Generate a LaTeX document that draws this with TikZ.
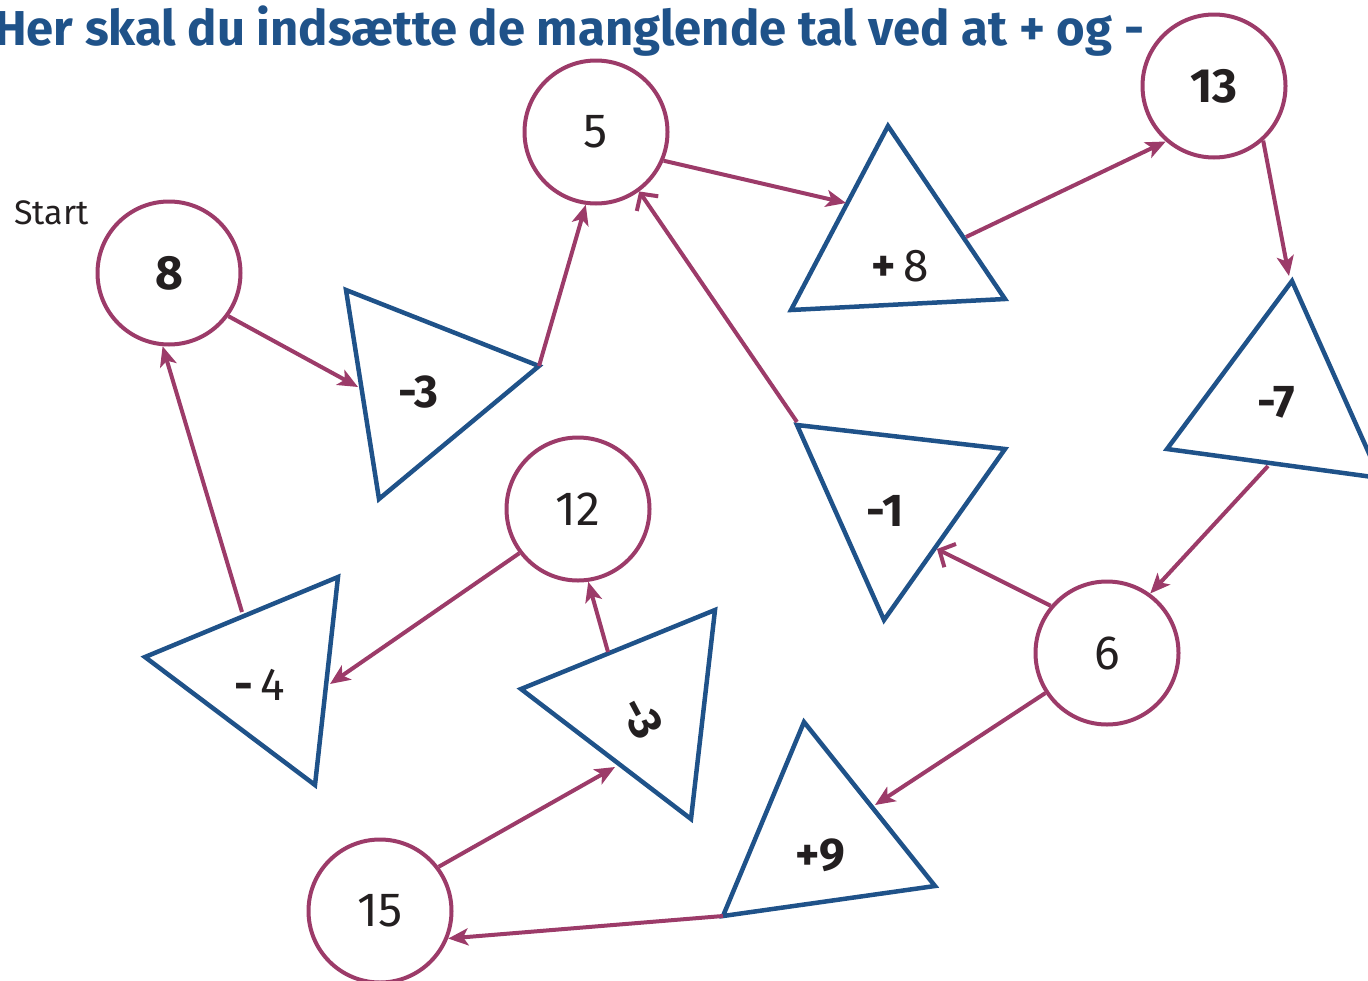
\documentclass[tikz,border=0pt]{standalone}
\usepackage{fontspec}
\setmainfont{Fira Sans}
\usetikzlibrary{arrows.meta}
\definecolor{plum}{HTML}{9C3B69}
\definecolor{tblue}{HTML}{1F5289}
\definecolor{ink}{HTML}{231F20}
\begin{document}
\begin{tikzpicture}[x=1pt,y=-1pt,
  numc/.style={circle,draw=plum,line width=4pt,minimum size=143pt,inner sep=0pt,text=ink,font=\fontsize{48}{56}\selectfont},
  tri/.style={draw=tblue,line width=4.5pt,line join=miter},
  lab/.style={text=ink,font=\fontsize{46}{54}\selectfont},
  con/.style={draw=plum,line width=4pt,-{Stealth[length=20pt,width=17pt,inset=5pt]}},
  conv/.style={draw=plum,line width=4pt,-{Straight Barb[length=12pt,width=26pt]}}]
\useasboundingbox (0,0) rectangle (1368,980);
\path[clip] (0,0) rectangle (1368,980);
% title
\node[anchor=base west,text=tblue,inner sep=0pt,font=\fontsize{49}{56}\selectfont\bfseries] (title) at (-6,45) {Her skal du indsætte de manglende tal ved at + og -};
\node[anchor=base west,inner sep=0pt,text=ink,font=\fontsize{34}{40}\selectfont] (start) at (14,224) {Start};
% circles
\node[numc] (c8) at (169,273) {\bfseries 8};
\node[numc] (c5) at (596,132) {5};
\node[numc] (c13) at (1214,86) {\bfseries 13};
\node[numc] (c12) at (578,509) {12};
\node[numc] (c6) at (1107,653) {6};
\node[numc] (c15) at (380,911) {15};
% triangles
\coordinate (ta1) at (346,290); \coordinate (ta2) at (539,366); \coordinate (ta3) at (379,499);
\draw[tri] (ta1) -- (ta2) -- (ta3) -- cycle;
\node[lab] (la) at (418,392) {\bfseries -3};
\coordinate (tb1) at (888,126); \coordinate (tb2) at (1005,299); \coordinate (tb3) at (791,310);
\draw[tri] (tb1) -- (tb2) -- (tb3) -- cycle;
\node[lab] (lb) at (900,266) {\textbf{+}\,8};
\coordinate (tc1) at (1292,281); \coordinate (tc2) at (1380,478); \coordinate (tc3) at (1167,449);
\draw[tri] (tc1) -- (tc2) -- (tc3) -- cycle;
\node[lab] (lc) at (1276,402) {\bfseries -7};
\coordinate (td1) at (797,425); \coordinate (td2) at (1005,449); \coordinate (td3) at (884,620);
\draw[tri] (td1) -- (td2) -- (td3) -- cycle;
\node[lab] (ld) at (885,511) {\bfseries -1};
\coordinate (te1) at (145,657); \coordinate (te2) at (338,577); \coordinate (te3) at (315,785);
\draw[tri] (te1) -- (te2) -- (te3) -- cycle;
\node[lab] (le) at (260,685) {\textbf{-}\,4};
\coordinate (tf1) at (521,689); \coordinate (tf2) at (715,610); \coordinate (tf3) at (691,819);
\draw[tri] (tf1) -- (tf2) -- (tf3) -- cycle;
\node[lab,rotate=-62] (lf) at (642,718) {\bfseries -3};
\coordinate (tg1) at (804,722); \coordinate (tg2) at (935,886); \coordinate (tg3) at (723,916);
\draw[tri] (tg1) -- (tg2) -- (tg3) -- cycle;
\node[lab] (lg) at (820,855) {\bfseries +9};
% arrow endpoints on triangles
\coordinate (a1) at (358,387);
\coordinate (a3) at (846,203);
\coordinate (a4) at (966,237);
\coordinate (a5) at (1289,276);
\coordinate (a6) at (1268,466);
\coordinate (a7) at (937,549);
\coordinate (a8) at (797,422);
\coordinate (a9) at (875,805);
\coordinate (a11) at (615,767);
\coordinate (a12) at (608,652);
\coordinate (a13) at (330,684);
\coordinate (a14) at (242,612);
% connectors
\draw[con] (c8.-36) -- (a1);
\draw[con] (ta2) -- (c5.-98);
\draw[con] (c5.-23) -- (a3);
\draw[con] (a4) -- (c13.-131);
\draw[con] (c13.-48) -- (a5);
\draw[con] (a6) -- (c6.54);
\draw[conv] (c6.140) -- (a7);
\draw[conv] (a8) -- (c5.-54);
\draw[con] (c6.-147) -- (a9);
\draw[con] (tg3) -- (c15.-22);
\draw[con] (c15.37) -- (a11);
\draw[con] (a12) -- (c12.-82);
\draw[con] (c12.-143) -- (a13);
\draw[con] (a14) -- (c8.-95);
\end{tikzpicture}
\end{document}
